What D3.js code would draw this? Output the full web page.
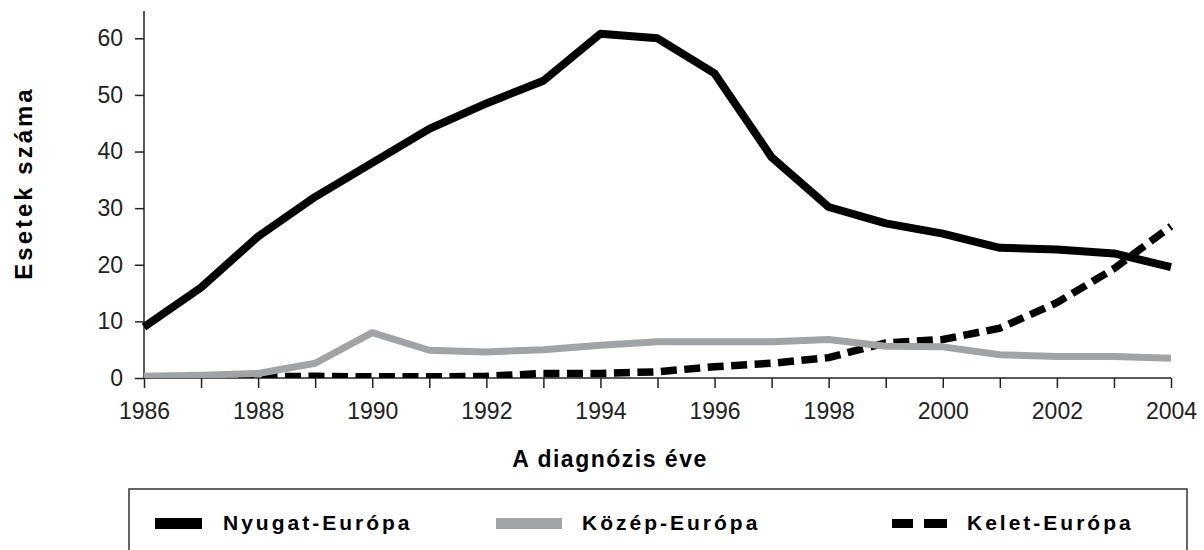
<!DOCTYPE html>
<html>
<head>
<meta charset="utf-8">
<script src="https://cdn.jsdelivr.net/npm/d3@7"></script>
<style>
  body { margin: 0; background: #fff; }
  text { font-family: "Liberation Sans", Arial, sans-serif; }
</style>
</head>
<body>
<div id="chart"></div>
<script>
var years = [1986, 1987, 1988, 1989, 1990, 1991, 1992, 1993, 1994, 1995, 1996, 1997, 1998, 1999, 2000, 2001, 2002, 2003, 2004];
var nyugat = [9, 16, 25, 32, 38, 44, 48.5, 52.5, 60.8, 60, 53.8, 39, 30.2, 27.3, 25.5, 23, 22.7, 22, 19.6];
var kozep = [0.3, 0.5, 0.8, 2.6, 8, 4.9, 4.6, 5, 5.8, 6.4, 6.4, 6.4, 6.8, 5.6, 5.5, 4.1, 3.8, 3.8, 3.5];
var kelet = [0, 0, 0.2, 0.3, 0.2, 0.2, 0.3, 0.8, 0.8, 1.1, 2, 2.6, 3.6, 6.2, 6.8, 8.8, 13.3, 19.3, 26.8];
var seriesNames = ['Nyugat-Európa', 'Közép-Európa', 'Kelet-Európa'];
var yTicks = [0, 10, 20, 30, 40, 50, 60];

var width = 1204, height = 550;
var svg = d3.select('#chart').append('svg').attr('width', width).attr('height', height);

var x = d3.scaleLinear().domain([1986, 2004]).range([144, 1171]);
var y = d3.scaleLinear().domain([0, 60]).range([378, 38.3]);

svg.append('defs').append('clipPath').attr('id', 'plot')
  .append('rect').attr('x', 130).attr('y', 0).attr('width', 1074).attr('height', 378);

// axes
var yAxis = svg.append('g').attr('transform', 'translate(144,0)')
  .call(d3.axisLeft(y).tickValues(yTicks).tickSize(9).tickPadding(12).tickFormat(d3.format('d')));
yAxis.select('.domain').attr('d', 'M0,11V378');

var xAxis = svg.append('g').attr('transform', 'translate(0,378)')
  .call(d3.axisBottom(x).tickValues(years).tickSize(10).tickPadding(15)
    .tickFormat(function(d) { return d % 2 == 0 ? d : ''; }));
xAxis.select('.domain').attr('d', 'M144,0H1171');

svg.selectAll('.domain, .tick line').attr('stroke', '#222').attr('stroke-width', 1.5);
svg.selectAll('.tick text').style('font-size', '23px').attr('fill', '#222');

// lines
var line = d3.line()
  .x(function(d, i) { return x(years[i]); })
  .y(function(d) { return y(d); });

var plot = svg.append('g').attr('clip-path', 'url(#plot)');
plot.append('path').datum(nyugat).attr('d', line)
  .attr('fill', 'none').attr('stroke', '#000').attr('stroke-width', 8).attr('stroke-linejoin', 'round');
plot.append('path').datum(kelet).attr('d', line)
  .attr('fill', 'none').attr('stroke', '#000').attr('stroke-width', 7.5)
  .attr('stroke-dasharray', '16,7.5');
plot.append('path').datum(kozep).attr('d', line)
  .attr('fill', 'none').attr('stroke', '#a0a4a6').attr('stroke-width', 7).attr('stroke-linejoin', 'round');

// axis titles
svg.append('text')
  .attr('x', 610).attr('y', 467)
  .attr('text-anchor', 'middle')
  .style('font-size', '23px').style('font-weight', 'bold').style('letter-spacing', '1.5px')
  .text('A diagnózis éve');

svg.append('text')
  .attr('transform', 'translate(32,183) rotate(-90)')
  .attr('text-anchor', 'middle')
  .style('font-size', '24px').style('font-weight', 'bold').style('letter-spacing', '3px')
  .text('Esetek száma');

// legend
svg.append('rect')
  .attr('x', 129).attr('y', 489).attr('width', 1058).attr('height', 100)
  .attr('fill', 'none').attr('stroke', '#333').attr('stroke-width', 1.5);

var legX = [155, 496, 892];
var legTextX = [223, 582, 967];

svg.append('rect').attr('x', legX[0]).attr('y', 518).attr('width', 47).attr('height', 11).attr('fill', '#000');
svg.append('rect').attr('x', legX[1]).attr('y', 518).attr('width', 66).attr('height', 11).attr('fill', '#a0a4a6');
svg.append('rect').attr('x', legX[2]).attr('y', 519).attr('width', 21).attr('height', 9).attr('fill', '#000');
svg.append('rect').attr('x', legX[2] + 32).attr('y', 519).attr('width', 23).attr('height', 9).attr('fill', '#000');

svg.selectAll('.legtext').data(seriesNames).enter().append('text')
  .attr('class', 'legtext')
  .attr('x', function(d, i) { return legTextX[i]; })
  .attr('y', 530)
  .style('font-size', '21px').style('font-weight', 'bold').style('letter-spacing', '3px')
  .text(function(d) { return d; });
</script>
</body>
</html>
